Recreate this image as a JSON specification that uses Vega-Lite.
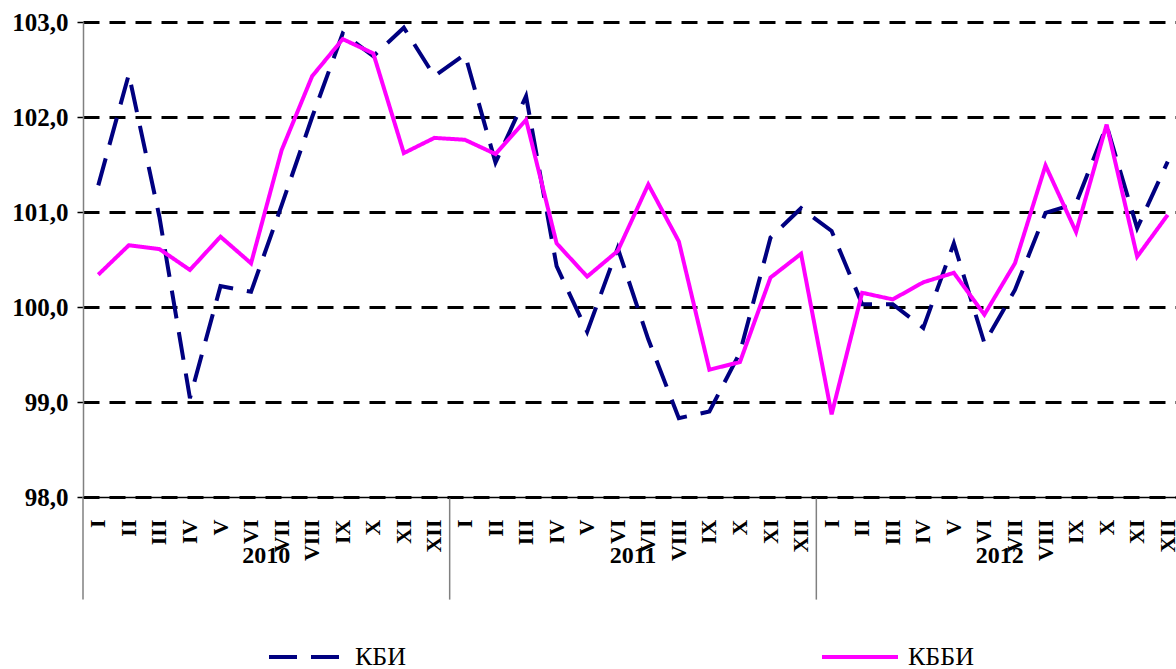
{
  "$schema": "https://vega.github.io/schema/vega-lite/v6.json",
  "width": 1093,
  "height": 475,
  "autosize": {"type": "none"},
  "padding": {"left": 83, "top": 22, "right": 0, "bottom": 172},
  "background": "white",
  "config": {"view": {"stroke": null}, "font": "Liberation Serif"},
  "datasets": {
    "seps": [{"key": "2010-I"}, {"key": "2011-I"}, {"key": "2012-I"}],
    "years": [
      {"key": "2010-VI", "year": "2010"},
      {"key": "2011-VI", "year": "2011"},
      {"key": "2012-VI", "year": "2012"}
    ],
    "series": [
      {"key": "2010-I", "series": "КБИ", "value": 101.28},
      {"key": "2010-II", "series": "КБИ", "value": 102.45},
      {"key": "2010-III", "series": "КБИ", "value": 100.95},
      {"key": "2010-IV", "series": "КБИ", "value": 99.04},
      {"key": "2010-V", "series": "КБИ", "value": 100.22},
      {"key": "2010-VI", "series": "КБИ", "value": 100.16},
      {"key": "2010-VII", "series": "КБИ", "value": 101.07},
      {"key": "2010-VIII", "series": "КБИ", "value": 102.0},
      {"key": "2010-IX", "series": "КБИ", "value": 102.88},
      {"key": "2010-X", "series": "КБИ", "value": 102.64},
      {"key": "2010-XI", "series": "КБИ", "value": 102.94},
      {"key": "2010-XII", "series": "КБИ", "value": 102.43},
      {"key": "2011-I", "series": "КБИ", "value": 102.66},
      {"key": "2011-II", "series": "КБИ", "value": 101.52},
      {"key": "2011-III", "series": "КБИ", "value": 102.22},
      {"key": "2011-IV", "series": "КБИ", "value": 100.43},
      {"key": "2011-V", "series": "КБИ", "value": 99.74},
      {"key": "2011-VI", "series": "КБИ", "value": 100.62},
      {"key": "2011-VII", "series": "КБИ", "value": 99.66},
      {"key": "2011-VIII", "series": "КБИ", "value": 98.83},
      {"key": "2011-IX", "series": "КБИ", "value": 98.9},
      {"key": "2011-X", "series": "КБИ", "value": 99.52},
      {"key": "2011-XI", "series": "КБИ", "value": 100.73},
      {"key": "2011-XII", "series": "КБИ", "value": 101.04},
      {"key": "2012-I", "series": "КБИ", "value": 100.8},
      {"key": "2012-II", "series": "КБИ", "value": 100.03},
      {"key": "2012-III", "series": "КБИ", "value": 100.03},
      {"key": "2012-IV", "series": "КБИ", "value": 99.78},
      {"key": "2012-V", "series": "КБИ", "value": 100.67},
      {"key": "2012-VI", "series": "КБИ", "value": 99.62},
      {"key": "2012-VII", "series": "КБИ", "value": 100.18},
      {"key": "2012-VIII", "series": "КБИ", "value": 100.99},
      {"key": "2012-IX", "series": "КБИ", "value": 101.09},
      {"key": "2012-X", "series": "КБИ", "value": 101.91},
      {"key": "2012-XI", "series": "КБИ", "value": 100.83},
      {"key": "2012-XII", "series": "КБИ", "value": 101.53},
      {"key": "2010-I", "series": "КББИ", "value": 100.34},
      {"key": "2010-II", "series": "КББИ", "value": 100.65},
      {"key": "2010-III", "series": "КББИ", "value": 100.61},
      {"key": "2010-IV", "series": "КББИ", "value": 100.39},
      {"key": "2010-V", "series": "КББИ", "value": 100.74},
      {"key": "2010-VI", "series": "КББИ", "value": 100.46},
      {"key": "2010-VII", "series": "КББИ", "value": 101.65},
      {"key": "2010-VIII", "series": "КББИ", "value": 102.43},
      {"key": "2010-IX", "series": "КББИ", "value": 102.82},
      {"key": "2010-X", "series": "КББИ", "value": 102.67},
      {"key": "2010-XI", "series": "КББИ", "value": 101.62},
      {"key": "2010-XII", "series": "КББИ", "value": 101.78},
      {"key": "2011-I", "series": "КББИ", "value": 101.76},
      {"key": "2011-II", "series": "КББИ", "value": 101.61},
      {"key": "2011-III", "series": "КББИ", "value": 101.97},
      {"key": "2011-IV", "series": "КББИ", "value": 100.67},
      {"key": "2011-V", "series": "КББИ", "value": 100.32},
      {"key": "2011-VI", "series": "КББИ", "value": 100.59},
      {"key": "2011-VII", "series": "КББИ", "value": 101.29},
      {"key": "2011-VIII", "series": "КББИ", "value": 100.69},
      {"key": "2011-IX", "series": "КББИ", "value": 99.34},
      {"key": "2011-X", "series": "КББИ", "value": 99.42},
      {"key": "2011-XI", "series": "КББИ", "value": 100.31},
      {"key": "2011-XII", "series": "КББИ", "value": 100.56},
      {"key": "2012-I", "series": "КББИ", "value": 98.87},
      {"key": "2012-II", "series": "КББИ", "value": 100.15},
      {"key": "2012-III", "series": "КББИ", "value": 100.08},
      {"key": "2012-IV", "series": "КББИ", "value": 100.26},
      {"key": "2012-V", "series": "КББИ", "value": 100.36},
      {"key": "2012-VI", "series": "КББИ", "value": 99.92},
      {"key": "2012-VII", "series": "КББИ", "value": 100.46},
      {"key": "2012-VIII", "series": "КББИ", "value": 101.49},
      {"key": "2012-IX", "series": "КББИ", "value": 100.79},
      {"key": "2012-X", "series": "КББИ", "value": 101.92},
      {"key": "2012-XI", "series": "КББИ", "value": 100.53},
      {"key": "2012-XII", "series": "КББИ", "value": 100.97}
    ]
  },
  "layer": [
    {
      "data": {"name": "series"},
      "mark": {"type": "line", "strokeWidth": 4, "strokeCap": "butt"},
      "encoding": {
        "x": {
          "field": "key", "type": "ordinal",
          "scale": {"type": "band", "paddingInner": 0, "paddingOuter": 0, "range": [0, 1100],
            "domain": ["2010-I","2010-II","2010-III","2010-IV","2010-V","2010-VI","2010-VII","2010-VIII","2010-IX","2010-X","2010-XI","2010-XII","2011-I","2011-II","2011-III","2011-IV","2011-V","2011-VI","2011-VII","2011-VIII","2011-IX","2011-X","2011-XI","2011-XII","2012-I","2012-II","2012-III","2012-IV","2012-V","2012-VI","2012-VII","2012-VIII","2012-IX","2012-X","2012-XI","2012-XII"]},
          "axis": {
            "title": null, "labelAngle": -90, "labelExpr": "split(datum.label, '-')[1]",
            "labelFont": "Liberation Serif", "labelFontSize": 22, "labelFontWeight": "bold", "labelColor": "black",
            "labelPadding": 22, "ticks": false, "tickSize": 0, "domainColor": "black", "domainWidth": 1.5,
            "grid": false, "zindex": 1
          }
        },
        "y": {
          "field": "value", "type": "quantitative",
          "scale": {"domain": [98, 103], "nice": false, "zero": false},
          "axis": {
            "title": null, "values": [98, 99, 100, 101, 102, 103],
            "labelExpr": "replace(format(datum.value, '.1f'), '.', ',')",
            "labelFont": "Liberation Serif", "labelFontSize": 25, "labelFontWeight": "bold", "labelColor": "black",
            "labelPadding": 9, "tickSize": 6, "tickColor": "black", "tickWidth": 1.5,
            "domainColor": "#808080", "domainWidth": 1.5,
            "grid": true, "gridColor": "black", "gridWidth": 3, "gridDash": [16, 10]
          }
        },
        "color": {
          "field": "series", "type": "nominal",
          "scale": {"domain": ["КБИ", "КББИ"], "range": ["#000080", "#FF00FF"]},
          "legend": {
            "title": null, "orient": "none", "legendX": 184, "legendY": 595, "direction": "horizontal",
            "symbolType": "stroke", "symbolSize": 5776, "symbolStrokeWidth": 4,
            "labelFont": "Liberation Serif", "labelFontSize": 26, "labelColor": "black", "labelOffset": 8,
            "columnPadding": 407
          }
        },
        "strokeDash": {
          "field": "series", "type": "nominal",
          "scale": {"domain": ["КБИ", "КББИ"], "range": [[28, 14], [1, 0]]},
          "legend": {
            "title": null, "orient": "none", "legendX": 184, "legendY": 595, "direction": "horizontal",
            "symbolType": "stroke", "symbolSize": 5776, "symbolStrokeWidth": 4,
            "labelFont": "Liberation Serif", "labelFontSize": 26, "labelColor": "black", "labelOffset": 8,
            "columnPadding": 407
          }
        }
      }
    },
    {
      "data": {"name": "seps"},
      "mark": {"type": "rule", "color": "#808080", "strokeWidth": 1.5},
      "encoding": {
        "x": {
          "field": "key", "type": "ordinal", "bandPosition": 0,
          "scale": {"type": "band", "paddingInner": 0, "paddingOuter": 0, "range": [0, 1100],
            "domain": ["2010-I","2010-II","2010-III","2010-IV","2010-V","2010-VI","2010-VII","2010-VIII","2010-IX","2010-X","2010-XI","2010-XII","2011-I","2011-II","2011-III","2011-IV","2011-V","2011-VI","2011-VII","2011-VIII","2011-IX","2011-X","2011-XI","2011-XII","2012-I","2012-II","2012-III","2012-IV","2012-V","2012-VI","2012-VII","2012-VIII","2012-IX","2012-X","2012-XI","2012-XII"]}
        },
        "y": {"datum": 98, "type": "quantitative", "scale": {"domain": [98, 103], "nice": false, "zero": false}},
        "y2": {"datum": 96.92}
      }
    },
    {
      "data": {"name": "years"},
      "mark": {"type": "text", "font": "Liberation Serif", "fontSize": 24, "fontWeight": "bold", "color": "black", "baseline": "middle", "align": "center"},
      "encoding": {
        "x": {
          "field": "key", "type": "ordinal", "bandPosition": 1,
          "scale": {"type": "band", "paddingInner": 0, "paddingOuter": 0, "range": [0, 1100],
            "domain": ["2010-I","2010-II","2010-III","2010-IV","2010-V","2010-VI","2010-VII","2010-VIII","2010-IX","2010-X","2010-XI","2010-XII","2011-I","2011-II","2011-III","2011-IV","2011-V","2011-VI","2011-VII","2011-VIII","2011-IX","2011-X","2011-XI","2011-XII","2012-I","2012-II","2012-III","2012-IV","2012-V","2012-VI","2012-VII","2012-VIII","2012-IX","2012-X","2012-XI","2012-XII"]}
        },
        "y": {"datum": 97.38, "type": "quantitative", "scale": {"domain": [98, 103], "nice": false, "zero": false}},
        "text": {"field": "year"}
      }
    }
  ]
}
